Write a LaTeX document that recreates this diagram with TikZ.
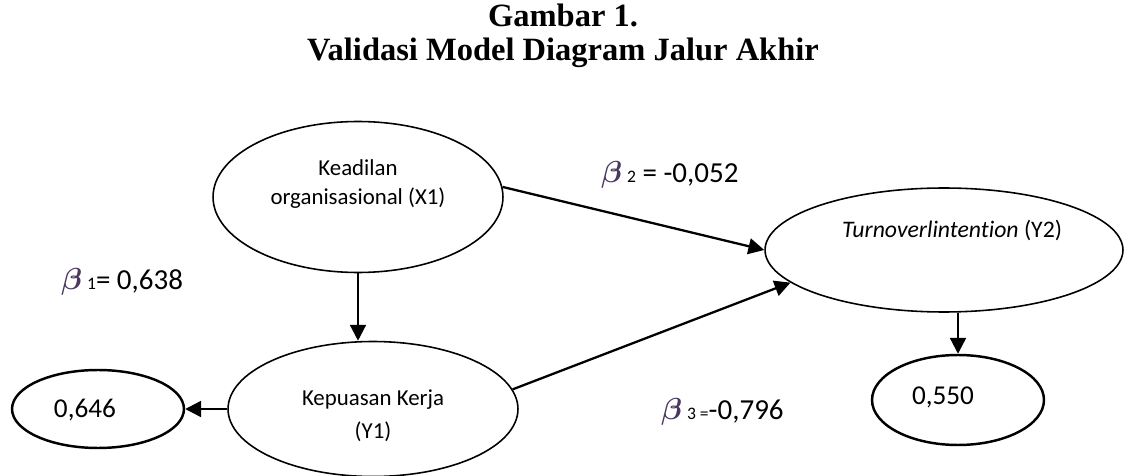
\documentclass[tikz,border=0pt]{standalone}
\usepackage{fontspec}
\usepackage{bm}
\setmainfont{Carlito}[Ligatures=NoCommon]
\newfontfamily\titlefont{Liberation Serif}
\usetikzlibrary{arrows.meta,shapes.geometric}
\definecolor{betacol}{RGB}{75,55,95}
\tikzset{var/.style={draw,ellipse,line width=0.9pt,inner sep=0pt}}
\tikzset{res/.style={draw,ellipse,line width=1.4pt,inner sep=0pt,minimum width=3.44cm}}
\tikzset{pathline/.style={line width=1.3pt,-{Triangle[length=9pt,width=9pt]}}}
\tikzset{vtext/.style={font=\fontsize{13}{16}\selectfont,align=center}}
\tikzset{rtext/.style={font=\fontsize{15.5}{18}\selectfont}}
\tikzset{coef/.style={font=\fontsize{16.5}{20}\selectfont,anchor=west}}
\tikzset{ttl/.style={font=\titlefont\bfseries\fontsize{18.5}{19}\selectfont,align=center}}
\newcommand{\bcoef}[1]{{\color{betacol}\fontsize{19}{20}\selectfont$\bm{\beta}$}\,{\fontsize{10}{12}\selectfont #1}}

\begin{document}
\begin{tikzpicture}[x=0.02cm,y=-0.02cm]
  \useasboundingbox (0,0) rectangle (1126,476);

  \node[ttl] (title) at (563,36) {Gambar 1.\\Validasi Model Diagram Jalur Akhir};

  % variables
  \node[var,minimum width=5.8cm,minimum height=3.02cm] (X1) at (358,197) {};
  \node[vtext] (X1t) at (358,184) {Keadilan\\organisasional (X1)};
  \node[var,minimum width=5.8cm,minimum height=2.7cm] (Y1) at (373,409) {};
  \node[vtext] (Y1t) at (373,416) {Kepuasan Kerja\\[3pt](Y1)};
  \node[var,minimum width=7.16cm,minimum height=2.48cm] (Y2) at (944,250) {};
  \node[vtext,font=\fontsize{13.5}{16}\selectfont] (Y2t) at (952,230) {\textit{Turnoverlintention} (Y2)};

  % residuals
  \node[res,minimum height=1.56cm] (E646) at (98,409) {};
  \node[rtext] (E646t) at (85,410) {0,646};
  \node[res,minimum height=1.8cm] (E550) at (958,400) {};
  \node[rtext] (E550t) at (943,397) {0,550};

  \draw[pathline] (X1.south) -- (X1.south |- Y1.north);
  \draw[pathline] (Y1.west) -- (Y1.west -| E646.east);
  \draw[pathline] (X1.4) -- (Y2.west);
  \draw[pathline] (Y1.8) -- (Y2.192);
  \draw[pathline] (E550.north |- Y2.south) -- (E550.north);

  \node[coef] (b1) at (55,282) {\bcoef{1}= 0,638};
  \node[coef] (b2) at (595,175) {\bcoef{2} = -0,052};
  \node[coef] (b3) at (655,412) {\bcoef{3 =}-0,796};
\end{tikzpicture}
\end{document}
